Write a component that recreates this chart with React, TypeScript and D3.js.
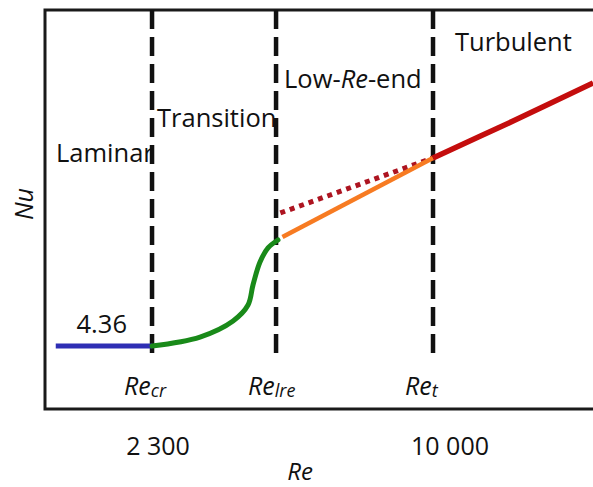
import React from "react";
import * as d3 from "d3";

const W = 593;
const H = 487;

// Regime boundaries in Reynolds number
const boundaryRe = [2300, 4400, 10000];
const boundaryNames = ["cr", "lre", "t"];
const xTickValues = [2300, 10000];
const xTickLabels = ["2 300", "10 000"];

// Laminar plateau
const laminarNu = 4.36;
const laminarRe = [1390, 2300];

// Transition region (S-shaped rise)
const transitionRe = [2300, 2956, 3514, 3800, 3900, 4046, 4219, 4445];
const transitionNu = [4.36, 4.98, 6.09, 7.19, 8.58, 10.17, 11.14, 11.69];

// Low-Re-end correlation
const lowEndRe = [4550, 10000];
const lowEndNu = [11.9, 17.37];

// Turbulent correlation extrapolated below Re_t
const extrapRe = [4500, 10000];
const extrapNu = [13.56, 17.37];

// Fully turbulent
const turbulentRe = [10000, 15200, 23100];
const turbulentNu = [17.37, 19.92, 22.55];

const FONT = "'Open Sans', 'Liberation Sans', sans-serif";

export default function App() {
  const left = 45;
  const right = 593;
  const top = 10;
  const bottom = 409;

  const x = d3.scaleLog().domain([1314, 23090]).range([left, right]);
  const y = d3.scaleLinear().domain([0, 27.6]).range([bottom, top]);

  const line = d3
    .line<[number, number]>()
    .x((d) => x(d[0]))
    .y((d) => y(d[1]));
  const smooth = d3
    .line<[number, number]>()
    .x((d) => x(d[0]))
    .y((d) => y(d[1]))
    .curve(d3.curveCatmullRom.alpha(0.5));

  const zip = (a: number[], b: number[]) => a.map((v, i) => [v, b[i]] as [number, number]);
  const dashBottom = y(3.5);

  return (
    <svg
      width={W}
      height={H}
      style={{ position: "fixed", left: 0, top: 0, background: "#fff" }}
      fontFamily={FONT}
    >
      {/* frame */}
      <path
        d={`M${right},${top}H${left}V${bottom}H${right}`}
        fill="none"
        stroke="#1a1a1a"
        strokeWidth={3}
      />

      {/* regime boundaries */}
      {boundaryRe.map((re) => (
        <line
          key={re}
          x1={x(re)}
          x2={x(re)}
          y1={top}
          y2={dashBottom}
          stroke="#111"
          strokeWidth={4.5}
          strokeDasharray="19 8"
        />
      ))}

      {/* curves */}
      <path
        d={line(laminarRe.map((r) => [r, laminarNu] as [number, number])) || ""}
        fill="none"
        stroke="#2e2eb4"
        strokeWidth={5}
      />
      <path
        d={smooth(zip(transitionRe, transitionNu)) || ""}
        fill="none"
        stroke="#198a19"
        strokeWidth={5}
        strokeLinecap="round"
      />
      <path
        d={line(zip(extrapRe, extrapNu)) || ""}
        fill="none"
        stroke="#ad1420"
        strokeWidth={5}
        strokeDasharray="5 5"
      />
      <path
        d={line(zip(lowEndRe, lowEndNu)) || ""}
        fill="none"
        stroke="#f77b22"
        strokeWidth={4.5}
      />
      <path
        d={smooth(zip(turbulentRe, turbulentNu)) || ""}
        fill="none"
        stroke="#c40d0d"
        strokeWidth={5.5}
      />

      {/* regime names */}
      <g fontSize={25.5} fill="#111">
        <text x={56} y={162}>Laminar</text>
        <text x={157} y={127}>Transition</text>
        <text x={284} y={88}>
          Low-<tspan fontStyle="italic">Re</tspan>-end
        </text>
        <text x={455} y={51}>Turbulent</text>
        <text x={x(laminarRe[0]) + 46} y={y(laminarNu) - 13} textAnchor="middle">
          {laminarNu.toFixed(2)}
        </text>
      </g>

      {/* boundary symbols */}
      <g fontSize={25} fill="#111" fontStyle="italic">
        {boundaryRe.map((re, i) => (
          <text key={re} x={x(re) - 28} y={395}>
            Re
            <tspan fontSize={18} dy={2}>
              {boundaryNames[i]}
            </tspan>
          </text>
        ))}
      </g>

      {/* x ticks */}
      <g fontSize={25} fill="#111" textAnchor="middle">
        {xTickValues.map((v, i) => (
          <text key={v} x={x(v) + 6 + i * 11} y={455}>
            {xTickLabels[i]}
          </text>
        ))}
      </g>

      {/* axis titles */}
      <text x={300} y={480} fontSize={24} fontStyle="italic" textAnchor="middle" fill="#111">
        Re
      </text>
      <text
        transform="translate(33,204) rotate(-90)"
        fontSize={25}
        fontStyle="italic"
        textAnchor="middle"
        fill="#111"
      >
        Nu
      </text>
    </svg>
  );
}
